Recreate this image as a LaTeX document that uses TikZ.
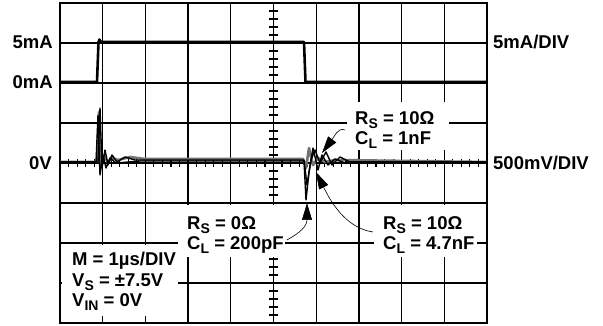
\documentclass[tikz,border=0pt]{standalone}
\usepackage{fontspec}
\setmainfont{Liberation Sans}
\usetikzlibrary{arrows.meta}
\newcommand{\lsub}[1]{\raisebox{-4pt}{\fontsize{14}{14}\selectfont #1}}
\begin{document}
\begin{tikzpicture}[x=1pt,y=-1pt,
  gridline/.style={line width=1.3pt,black},
  tickline/.style={line width=1.1pt,black},
  cover/.style={fill=white},
  lbl/.style={font=\bfseries\fontsize{18.5}{20.5}\selectfont,inner sep=0pt,align=left},
  itrace/.style={line width=2.6pt,line join=round},
  vtrace/.style={line width=1.4pt,line join=round},
  vgray/.style={line width=2.6pt,line join=round,black!55},
  pointer/.style={line width=0.6pt,-{Triangle[length=17pt,width=10pt]}}]
\useasboundingbox (0,0) rectangle (603,326);
% grid
\foreach \i in {0,...,10} \draw[gridline] ({60+42.7*\i},3) -- ({60+42.7*\i},323);
\foreach \j in {0,...,8} \draw[gridline] (60,{3+40*\j}) -- (487,{3+40*\j});
\draw[line width=1.5pt] (60,3) rectangle (487,323);
% ticks on centre axes
\foreach \k in {0,...,40} \draw[tickline] (269,{3+8*\k}) -- (278,{3+8*\k});
\foreach \k in {0,...,50} \draw[tickline] ({60+8.54*\k},159) -- ({60+8.54*\k},167);
% label backgrounds
\fill[cover] (347,102) rectangle (449,150);
\fill[cover] (178,205) rectangle (285,257);
\fill[cover] (374,205) rectangle (477,257);
\fill[cover] (62,245) rectangle (178,316);
% current trace
\draw[itrace] (60,82) -- (97,82) -- (98.5,42) -- (99.5,39.5) -- (101,42) -- (304,42) -- (305.5,82) -- (487,82);
% voltage traces
\draw[vgray] (60,162) -- (97,162) -- (99,112) -- (101,165) -- (104,156) -- (108,162) -- (112,158) -- (118,160) -- (130,157) -- (145,159) -- (303,159) -- (306,168) -- (309,148) -- (313,165) -- (318,158) -- (325,162) -- (335,160) -- (487,162);
\draw[vtrace] (60,163) -- (96,163) -- (98,115) -- (100,175) -- (103,155) -- (106,168) -- (110,158) -- (116,163) -- (140,161) -- (304,161) -- (306,200) -- (309,172) -- (313,148) -- (318,170) -- (322,155) -- (328,165) -- (335,159) -- (345,163) -- (487,163);
\draw[vtrace] (60,162) -- (98,162) -- (100,108) -- (102,168) -- (105,150) -- (108,165) -- (112,155) -- (117,162) -- (125,157) -- (135,160) -- (304,160) -- (307,185) -- (311,160) -- (315,150) -- (320,163) -- (326,152) -- (332,165) -- (340,157) -- (350,162) -- (487,162);
\draw[line width=3pt] (60,162.5) -- (97,162.5);
\draw[line width=3pt] (345,162.5) -- (487,162.5);
% labels
\node[lbl,anchor=east] (l5ma) at (53,42) {5mA};
\node[lbl,anchor=east] (l0ma) at (53,82) {0mA};
\node[lbl,anchor=east] (l0v) at (52,163) {0V};
\node[lbl,anchor=west] (r5ma) at (493,42) {5mA/DIV};
\node[lbl,anchor=west] (r500) at (493,163) {500mV/DIV};
\node[lbl,anchor=west] (lA) at (355,130) {R\lsub{S} = 10Ω\\C\lsub{L} = 1nF};
\node[lbl,anchor=west] (lB) at (187,235) {R\lsub{S} = 0Ω\\C\lsub{L} = 200pF};
\node[lbl,anchor=west] (lC) at (383,235) {R\lsub{S} = 10Ω\\C\lsub{L} = 4.7nF};
\node[lbl,anchor=west] (lM) at (72,281.5) {M = 1µs/DIV\\V\lsub{S} = ±7.5V\\V\lsub{IN} = 0V};
% pointers
\coordinate (t1) at (322,153);
\coordinate (t2) at (307,203);
\coordinate (t3) at (316,172);
\draw[pointer] ([xshift=-10pt]lA.west) .. controls (338,127) and (334,137) .. (t1);
\draw[pointer] ([xshift=3pt,yshift=-5pt]lB.east) .. controls (300,233) and (307,226) .. (t2);
\draw[pointer] ([xshift=-10pt,yshift=3pt]lC.west) .. controls (345,228) and (330,200) .. (t3);
\end{tikzpicture}
\end{document}
